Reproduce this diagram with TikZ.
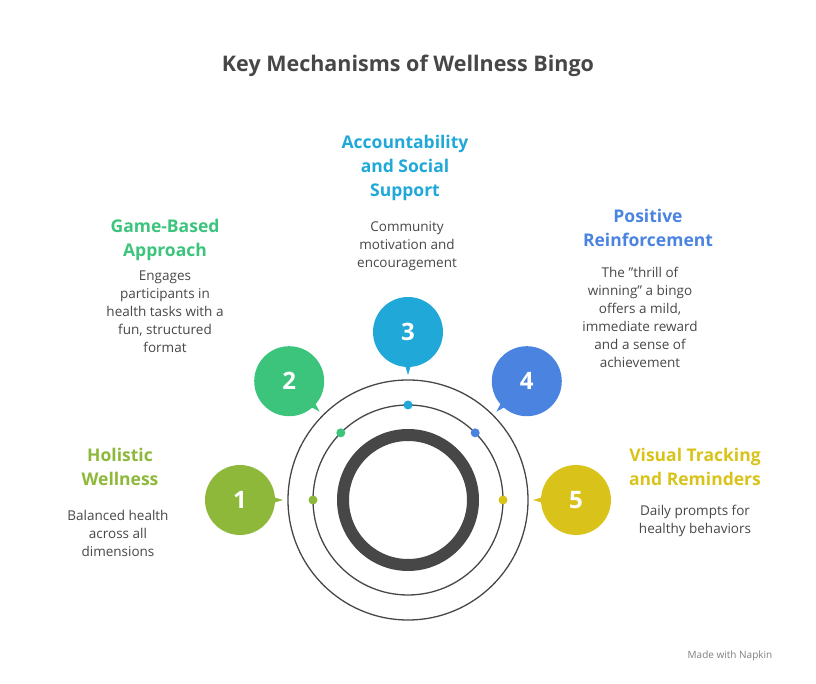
\documentclass[tikz,border=0pt]{standalone}
\usepackage{fontspec}
\setmainfont{Open Sans}
\usetikzlibrary{calc}
\definecolor{cone}{HTML}{8DB83A}
\definecolor{ctwo}{HTML}{3CC47C}
\definecolor{cthree}{HTML}{1FA8D8}
\definecolor{cfour}{HTML}{4A84E0}
\definecolor{cfive}{HTML}{D9C31A}
\definecolor{ring}{HTML}{474747}
\tikzset{
  head/.style={align=center,font=\fontsize{17.5}{24}\selectfont\bfseries},
  body/.style={align=center,text=ring,font=\fontsize{13.5}{18}\selectfont},
  num/.style={text=white,font=\fontsize{24}{24}\selectfont\bfseries}
}
\begin{document}
\begin{tikzpicture}[x=1pt,y=1pt]
\useasboundingbox (0,0) rectangle (816,684);
%\draw[step=50,gray,very thin] (0,0) grid (816,684);
\coordinate (c) at (408,184);
\draw[ring,line width=1.3] (c) circle (120);
\draw[ring,line width=1.3] (c) circle (95);
\draw[ring,line width=12] (c) circle (65);
\foreach \i/\a/\col in {1/180/cone,2/135/ctwo,3/90/cthree,4/45/cfour,5/0/cfive}{
  \fill[\col] ($(c)+(\a:95)$) circle (4.5);
  \fill[\col] ($(c)+(\a:125)$) -- ($(c)+(\a:168)+(\a+90:13)$) -- ($(c)+(\a:168)+(\a-90:13)$) -- cycle;
  \fill[\col] ($(c)+(\a:168)$) circle (35);
  \node[num] (n\i) at ($(c)+(\a:168)$) {\i};
}
\node[text=ring,font=\fontsize{21.5}{24}\selectfont\bfseries] (title) at (408,618) {Key Mechanisms of Wellness Bingo};
\node[head,text=cone] (h1) at (120,217) {Holistic\\Wellness};
\node[body] (b1) at (118,151) {Balanced health\\across all\\dimensions};
\node[head,text=ctwo] (h2) at (165,444) {Game-Based\\Approach};
\node[body] (b2) at (165,372) {Engages\\participants in\\health tasks with a\\fun, structured\\format};
\node[head,text=cthree] (h3) at (405,516) {Accountability\\and Social\\Support};
\node[body] (b3) at (407,438) {Community\\motivation and\\encouragement};
\node[head,text=cfour] (h4) at (648,456) {Positive\\Reinforcement};
\node[body] (b4) at (640,367) {The "thrill of\\winning" a bingo\\offers a mild,\\immediate reward\\and a sense of\\achievement};
\node[head,text=cfive] (h5) at (695,217) {Visual Tracking\\and Reminders};
\node[body] (b5) at (695,163) {Daily prompts for\\healthy behaviors};
\node[text=gray,font=\fontsize{10}{12}\selectfont] (foot) at (730,28) {Made with Napkin};
\end{tikzpicture}
\end{document}
